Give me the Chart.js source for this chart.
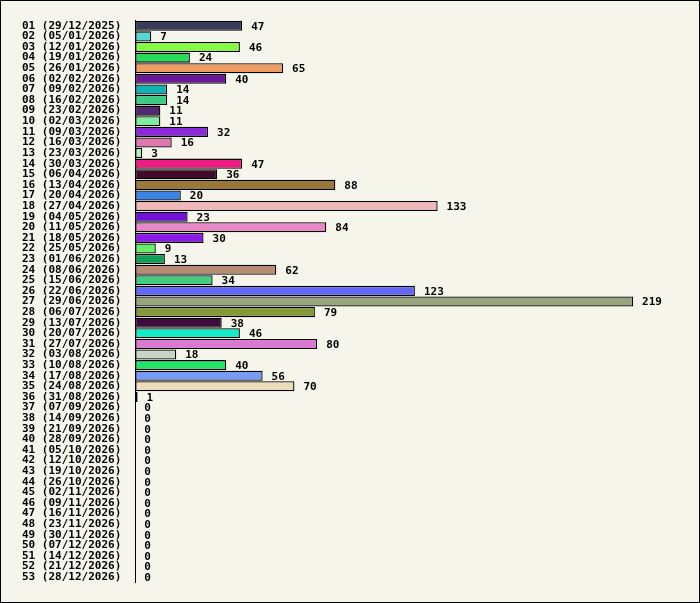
<!DOCTYPE html><html><head><script src="https://cdn.jsdelivr.net/npm/chart.js@4"></script>
<style>body{margin:0;background:#fff}#w{width:698px;height:601px;border:1px solid #000;background:#f5f5eb}</style></head><body><div id="w"><canvas id="c"></canvas></div><script>
const weeks=["29/12/2025","05/01/2026","12/01/2026","19/01/2026","26/01/2026","02/02/2026","09/02/2026","16/02/2026","23/02/2026","02/03/2026","09/03/2026","16/03/2026","23/03/2026","30/03/2026","06/04/2026","13/04/2026","20/04/2026","27/04/2026","04/05/2026","11/05/2026","18/05/2026","25/05/2026","01/06/2026","08/06/2026","15/06/2026","22/06/2026","29/06/2026","06/07/2026","13/07/2026","20/07/2026","27/07/2026","03/08/2026","10/08/2026","17/08/2026","24/08/2026","31/08/2026","07/09/2026","14/09/2026","21/09/2026","28/09/2026","05/10/2026","12/10/2026","19/10/2026","26/10/2026","02/11/2026","09/11/2026","16/11/2026","23/11/2026","30/11/2026","07/12/2026","14/12/2026","21/12/2026","28/12/2026"];
const labels=weeks.map((d,i)=>String(i+1).padStart(2,"0")+" ("+d+")");
const values=[47,7,46,24,65,40,14,14,11,11,32,16,3,47,36,88,20,133,23,84,30,9,13,62,34,123,219,79,38,46,80,18,40,56,70,1,0,0,0,0,0,0,0,0,0,0,0,0,0,0,0,0,0];
const colors=["#383c58","#55d6d0","#84fa40","#28dc58","#ee9c64","#6c1898","#10b4b4","#38cc84","#502874","#80eca0","#8c28dc","#e078b0","#b0f4b0","#f01c84","#400c28","#9c7838","#3c84e8","#f0b8b8","#7010d8","#e888c8","#8c18ec","#64f064","#10a058","#b88c74","#44cc80","#6068f4","#98a47c","#849838","#3c0c3c","#14ecc8","#dc78d4","#c8d4c8","#24e468","#789cf4","#ecdcbc","#a0a0a0","#888","#888","#888","#888","#888","#888","#888","#888","#888","#888","#888","#888","#888","#888","#888","#888","#888"];
const valLabels={id:"vl",afterDatasetsDraw(ch){const c=ch.ctx,m=ch.getDatasetMeta(0);c.save();c.font="bold 11px 'DejaVu Sans Mono'";c.fillStyle="#000";c.textBaseline="middle";m.data.forEach((b,i)=>{c.fillText(values[i],b.x+9,b.y+1)});c.restore();}};
new Chart(document.getElementById("c"),{type:"bar",data:{labels,datasets:[{data:values,backgroundColor:colors,borderColor:"#000",borderWidth:1.3,barPercentage:0.95,categoryPercentage:1,borderSkipped:false}]},
options:{indexAxis:"y",responsive:true,maintainAspectRatio:false,animation:false,layout:{padding:{top:10,bottom:6,left:7,right:0}},
plugins:{legend:{display:false},tooltip:{enabled:false}},
scales:{x:{display:false,min:0,max:248},y:{grid:{display:false,drawTicks:false},border:{color:"#000",width:1},ticks:{autoSkip:false,color:"#000",padding:14,font:{family:"'DejaVu Sans Mono'",weight:"bold",size:11,lineHeight:1}}}}},plugins:[valLabels]});
</script></body></html>
